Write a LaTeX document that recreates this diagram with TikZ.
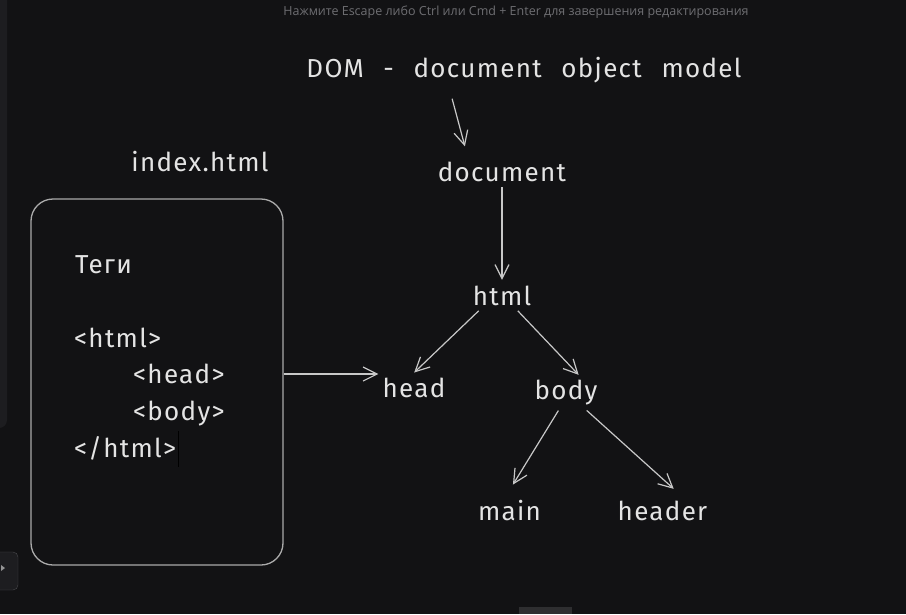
\documentclass[tikz,border=0pt]{standalone}
\usepackage{fontspec}
\setmainfont{Fira Sans}[LetterSpace=5, WordSpace=2.4]
\newfontfamily\hintfont{Open Sans}
\usetikzlibrary{arrows.meta}

\definecolor{canvas}{HTML}{121214}
\definecolor{chalk}{HTML}{E4E4E4}
\definecolor{stroke}{HTML}{C8C8C8}
\definecolor{sidebar}{HTML}{1D1D20}
\definecolor{hintgray}{HTML}{6E6E72}

\tikzset{
	word/.style={text=chalk, font=\fontsize{26}{30}\selectfont, inner sep=4pt},
	code/.style={word, anchor=base west, inner sep=0pt},
	arrow/.style={draw=stroke, line width=1.2pt, -{Straight Barb[length=14pt,width=14pt]}},
	panel/.style={draw=stroke!85!black, line width=1.3pt, rounded corners=22pt}
}

\begin{document}
\begin{tikzpicture}[x=1pt, y=1pt,
			level 1/.style={level distance=124pt},
			level 2/.style={level distance=96pt, sibling distance=152pt},
			level 3/.style={level distance=118pt, sibling distance=153pt},
			edge from parent/.style={arrow, shorten <=1pt, shorten >=2pt}
		]
	\fill[canvas] (0,0) rectangle (906,-614);
	\useasboundingbox (0,0) rectangle (906,-614);

	% editor chrome
	\fill[sidebar] (0,0) -- (7,0) -- (7,-420) arc (0:-90:8) -- (0,-428) -- cycle;
	\draw[fill=sidebar, draw=white!20!sidebar, rounded corners=5pt] (-6,-552) rectangle (18,-590);
	\fill[white!55!canvas] (5,-568) -- (1,-565) -- (1,-571) -- cycle;
	\fill[white!12!canvas] (519,-607) rectangle (572,-614);
	\node[text=hintgray, font=\hintfont\fontsize{12.5}{14}\selectfont] (hint) at (516,-12)
		{Нажмите Escape либо Ctrl или Cmd + Enter для завершения редактирования};

	% title
	\node[word] (title) at (524,-70) {DOM - document object model};

	% DOM tree
	\node[word] (document) at (502,-172) {document}
	child {node[word] (html) {html}
			child[xshift=-12pt, yshift=4pt, parent anchor=-148, child anchor=95] {node[word] (head) {head}}
			child[xshift=-12pt, yshift=-1pt, parent anchor=-43, child anchor=50] {
					node[word] (body) {body}
					child[xshift=20pt, parent anchor=-113, child anchor=105,
						edge from parent/.append style={shorten >=14pt}] {node[word] (main) {main}}
					child[xshift=20pt, parent anchor=-40, child anchor=35,
						edge from parent/.append style={shorten >=12pt}] {node[word] (header) {header}}
				}
		};
	\draw[arrow, shorten <=12pt, shorten >=12pt] ([xshift=-75pt]title.south) -- ([xshift=-34pt]document.north);

	% file
	\node[word] (filename) at (200,-162) {index.html};
	\node[panel, minimum width=252pt, minimum height=366pt] (file) at (157,-382) {};
	\node[code] (tags) at (75,-273) {Теги};
	\node[code] (open) at (74,-347) {<html>};
	\node[code] (headtag) at (133,-383) {<head>};
	\node[code] (bodytag) at (133,-420) {<body>};
	\node[code] (close) at (74,-457) {</html>};
	\draw[stroke, line width=0.8pt] (178,-431) -- (178,-467);
	\draw[arrow] ([yshift=8pt]file.east) -- ([yshift=8pt]file.east -| head.west);
\end{tikzpicture}
\end{document}
